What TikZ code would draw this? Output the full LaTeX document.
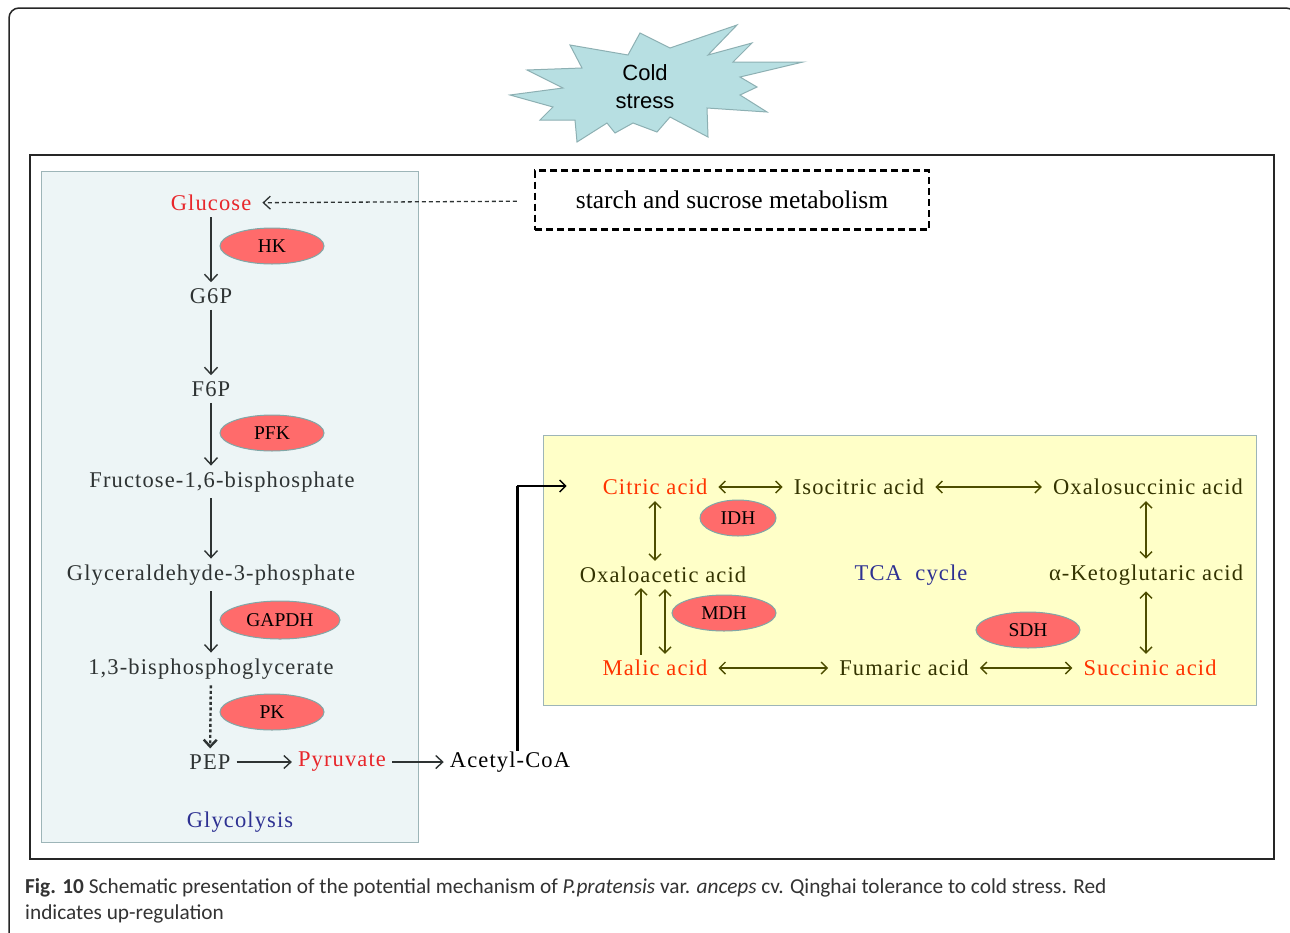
\documentclass[tikz,border=0pt]{standalone}
\usepackage{fontspec}
\setmainfont{Liberation Serif}[LetterSpace=5]
\newfontfamily\plainserif{Liberation Serif}
\newfontfamily\burstfont{Liberation Sans}
\newfontfamily\capfont{Carlito}
\usetikzlibrary{arrows.meta,shapes.geometric}
\definecolor{metgray}{HTML}{2E3333}
\definecolor{glyred}{HTML}{E8262B}
\definecolor{tcared}{HTML}{FF3300}
\definecolor{olivetxt}{HTML}{333300}
\definecolor{olivearr}{HTML}{4D4D00}
\definecolor{navy}{HTML}{2E3192}
\definecolor{enzfill}{HTML}{FF6B6B}
\definecolor{enzedge}{HTML}{7FA7A7}
\definecolor{glyfill}{HTML}{EDF5F6}
\definecolor{boxedge}{HTML}{9DB5B8}
\definecolor{tcafill}{HTML}{FFFFC8}
\definecolor{burstfill}{HTML}{B7DFE2}
\definecolor{burstedge}{HTML}{8DB0B3}
\begin{document}
\begin{tikzpicture}[x=1pt,y=-1pt,
	met/.style={font=\fontsize{22.5}{24}\selectfont, text=metgray, inner sep=1pt},
	gup/.style={met, text=glyred},
	tca/.style={met, text=olivetxt},
	tup/.style={met, text=tcared},
	title/.style={met, text=navy},
	enz/.style={ellipse, draw=enzedge, fill=enzfill, line width=1pt, minimum width=104, minimum height=36, inner sep=0pt, font=\plainserif\fontsize{19.5}{20}\selectfont},
	flow/.style={draw=metgray, line width=1.4pt, -{Straight Barb[length=7pt,width=13pt]}, shorten <=5pt, shorten >=5pt},
	rev/.style={draw=olivearr, line width=1.4pt, {Straight Barb[length=6pt,width=12pt]}-{Straight Barb[length=6pt,width=12pt]}, shorten <=10pt, shorten >=10pt},
	vrev/.style={rev, shorten <=5pt, shorten >=5pt}]
	\useasboundingbox (0,0) rectangle (1290,932);
	\clip (0,0) rectangle (1290,932);
	\fill[white] (0,0) rectangle (1290,932);
	\draw[line width=1.5pt, rounded corners=10pt, draw=black!85] (9,8) rectangle (1296,942);
	\draw[line width=1.3pt, draw=black!85] (30,155) rectangle (1274,859);
	\filldraw[fill=glyfill, draw=boxedge, line width=1pt] (41,171) rectangle (418,842);
	\filldraw[fill=tcafill, draw=boxedge, line width=1pt] (543,435) rectangle (1256,705);

	\filldraw[fill=burstfill, draw=burstedge, line width=1pt]
	(510,95) -- (563,88) -- (527,70) -- (582,68) -- (570,45) -- (628,55) -- (640,33) -- (670,48)
	-- (737,25) -- (708,55) -- (752,43) -- (733,62) -- (803,62) -- (740,77) -- (757,87) -- (740,95)
	-- (767,112) -- (707,108) -- (708,137) -- (670,117) -- (657,132) -- (633,123) -- (615,133)
	-- (607,123) -- (577,142) -- (575,120) -- (540,120) -- (553,107) -- cycle;
	\node[align=center, font=\burstfont\fontsize{22}{28}\selectfont] (cold) at (645,87) {Cold\\stress};

	\node[draw, line width=2.5pt, dash pattern=on 7pt off 4pt, minimum width=394, minimum height=59, text=black, font=\plainserif\fontsize{25.5}{27}\selectfont] (starch) at (732,200) {starch and sucrose metabolism};

	\node[gup] (glc) at (211,203) {Glucose};
	\node[met] (g6p) at (211,296) {G6P};
	\node[met] (f6p) at (211,389) {F6P};
	\node[met] (fbp) at (222,482) {Fructose-1,6-bisphosphate};
	\node[met] (gap) at (211,575) {Glyceraldehyde-3-phosphate};
	\node[met] (bpg) at (211,669) {1,3-bisphosphoglycerate};
	\node[met] (pep) at (210,762) {PEP};
	\node[gup] (pyr) at (342,762) {Pyruvate};
	\node[met, text=black] (acoa) at (510,762) {Acetyl-CoA};
	\node[title] (glyco) at (240,822) {Glycolysis};

	\node[enz] (hk) at (272,246) {HK};
	\node[enz] (pfk) at (272,433) {PFK};
	\node[enz, minimum width=120, minimum height=38] (gapdh) at (280,620) {GAPDH};
	\node[enz] (pk) at (272,712) {PK};

	\draw[flow, line width=1.3pt, dash pattern=on 4pt off 3pt, shorten <=17pt, shorten >=10pt] (starch) -- (glc);
	\draw[flow] (glc) -- (g6p);
	\draw[flow] (g6p) -- (f6p);
	\draw[flow] (f6p) -- (fbp.north -| f6p);
	\draw[flow] (fbp.south -| f6p) -- (gap);
	\draw[flow] (gap) -- (bpg);
	\draw[flow, line width=2.4pt, dash pattern=on 3pt off 2.5pt] (bpg) -- (pep);
	\draw[flow] (pep) -- (pyr);
	\draw[flow] (pyr) -- (acoa);

	\node[tup] (cit) at (655,487) {Citric acid};
	\node[tca] (icit) at (859,487) {Isocitric acid};
	\node[tca] (osuc) at (1148,487) {Oxalosuccinic acid};
	\node[tca] (oaa) at (663,575) {Oxaloacetic acid};
	\node[title] (tcac) at (911,575) {TCA\ \ cycle};
	\node[tca] (akg) at (1146,575) {α-Ketoglutaric acid};
	\node[tup] (mal) at (655,668) {Malic acid};
	\node[tca] (fum) at (904,668) {Fumaric acid};
	\node[tup] (suc) at (1150,668) {Succinic acid};

	\node[enz, minimum width=76] (idh) at (738,518) {IDH};
	\node[enz, minimum width=104] (mdh) at (724,613) {MDH};
	\node[enz, minimum width=104] (sdh) at (1028,630) {SDH};

	\coordinate (bend) at (517,486);
	\draw[line width=3pt] (acoa.north -| bend) -- (bend);
	\draw[draw=black, line width=1.4pt, -{Straight Barb[length=6pt,width=12pt]}, shorten >=35pt] (bend) -- (cit.west |- bend);

	\draw[rev] (cit) -- (icit);
	\draw[rev] (icit) -- (osuc);
	\draw[vrev] (cit) -- (cit |- oaa.north);
	\draw[vrev] (osuc.south -| akg.north) -- (akg);
	\draw[vrev] (akg) -- (akg |- suc.north);
	\draw[draw=olivearr, line width=1.4pt, -{Straight Barb[length=6pt,width=12pt]}, shorten <=4pt, shorten >=4pt] ([xshift=-14pt]mal.north) -- ([xshift=-14pt]mal.north |- oaa.south);
	\draw[vrev] ([xshift=10pt]mal.north) -- ([xshift=10pt]mal.north |- oaa.south);
	\draw[rev] (mal) -- (fum);
	\draw[rev] (fum) -- (suc);

	\node[anchor=north west, align=left, inner sep=0pt, text=black!80, font=\capfont\fontsize{21.3}{26}\selectfont] (caption) at (25,878)
	{\textbf{Fig. 10} Schematic presentation of the potential mechanism of \textit{P.pratensis} var. \textit{anceps} cv. Qinghai tolerance to cold stress. Red\\indicates up-regulation};
\end{tikzpicture}
\end{document}
